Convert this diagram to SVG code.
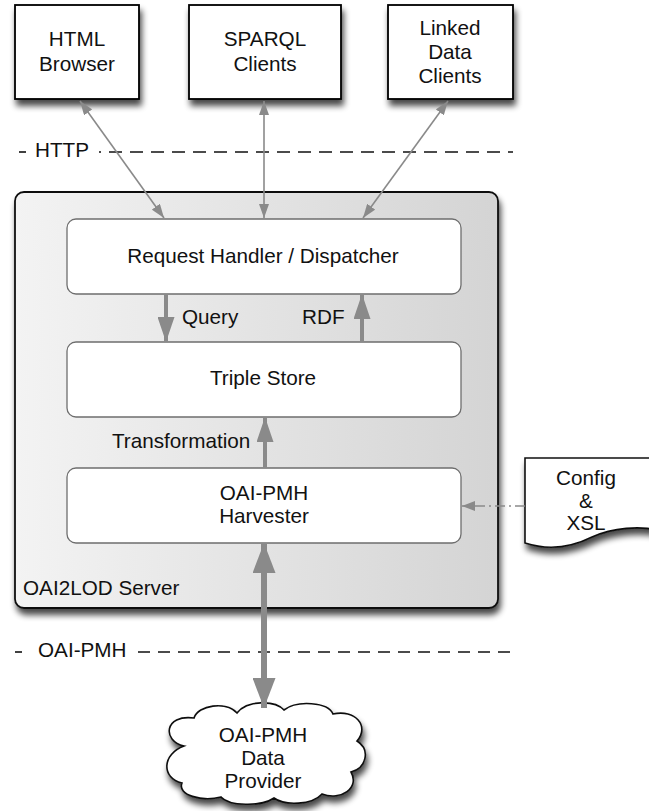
<svg xmlns="http://www.w3.org/2000/svg" width="649" height="811" viewBox="0 0 649 811">
  <defs>
    <style>
      text { font-family: "Liberation Sans", Arial, Helvetica, sans-serif; font-size: 20.7px; fill: #111; }
      .c { text-anchor: middle; }
      .client { fill: #fff; stroke: #000; stroke-width: 1.8; }
      .inner { fill: #fff; stroke: #6e6e6e; stroke-width: 1.3; }
      .boundary { stroke: #111; stroke-width: 1.6; fill: none; }
      .thin { stroke: #8a8a8a; stroke-width: 1.6; fill: none; }
      .mid { stroke: #8a8a8a; stroke-width: 4; fill: none; }
      .thick { stroke: #8a8a8a; stroke-width: 6; fill: none; }
      .dashdot { stroke: #8a8a8a; stroke-width: 1.6; fill: none; stroke-dasharray: 10 4 2 4; }
    </style>
    <filter id="shadow" x="-20%" y="-20%" width="150%" height="160%">
      <feGaussianBlur in="SourceAlpha" stdDeviation="3.2"/>
      <feOffset dx="2" dy="6" result="b"/>
      <feComponentTransfer><feFuncA type="linear" slope="0.72"/></feComponentTransfer>
      <feMerge><feMergeNode/><feMergeNode in="SourceGraphic"/></feMerge>
    </filter>
    <linearGradient id="serverFill" x1="0" y1="0" x2="1" y2="0">
      <stop offset="0" stop-color="#f3f3f3"/>
      <stop offset="1" stop-color="#d4d4d4"/>
    </linearGradient>
    <marker id="headThin" markerUnits="userSpaceOnUse" markerWidth="14" markerHeight="10" refX="14" refY="5" orient="auto-start-reverse">
      <path d="M0,0 L14,5 L0,10 z" fill="#8a8a8a"/>
    </marker>
    <marker id="headMid" markerUnits="userSpaceOnUse" markerWidth="25" markerHeight="17" refX="25" refY="8.5" orient="auto-start-reverse">
      <path d="M0,0 L25,8.5 L0,17 z" fill="#8a8a8a"/>
    </marker>
    <marker id="headBig" markerUnits="userSpaceOnUse" markerWidth="30" markerHeight="23" refX="30" refY="11.5" orient="auto-start-reverse">
      <path d="M0,0 L30,11.5 L0,23 z" fill="#8a8a8a"/>
    </marker>
    <marker id="headSmall" markerUnits="userSpaceOnUse" markerWidth="13" markerHeight="10" refX="13" refY="5" orient="auto">
      <path d="M0,0 L13,5 L0,10 z" fill="#8a8a8a"/>
    </marker>
  </defs>

  <rect width="649" height="811" fill="#fff"/>

  <!-- protocol boundaries -->
  <g id="boundary-http">
    <line class="boundary" x1="19" y1="152" x2="26" y2="152"/>
    <text x="35" y="157">HTTP</text>
    <line class="boundary" x1="99" y1="152" x2="513" y2="152" stroke-dasharray="13 8" stroke-dashoffset="11"/>
  </g>
  <g id="boundary-oaipmh">
    <line class="boundary" x1="15" y1="652" x2="22" y2="652"/>
    <text x="38" y="657">OAI-PMH</text>
    <line class="boundary" x1="138" y1="652" x2="513" y2="652" stroke-dasharray="12 8"/>
  </g>

  <!-- clients -->
  <g id="html-browser">
    <rect class="client" x="15" y="5" width="124" height="94" filter="url(#shadow)"/>
    <text class="c" x="77" y="46">HTML</text>
    <text class="c" x="77" y="71">Browser</text>
  </g>
  <g id="sparql-clients">
    <rect class="client" x="189" y="5" width="152" height="94" filter="url(#shadow)"/>
    <text class="c" x="265" y="46">SPARQL</text>
    <text class="c" x="265" y="71">Clients</text>
  </g>
  <g id="linked-data-clients">
    <rect class="client" x="388" y="5" width="125" height="94" filter="url(#shadow)"/>
    <text class="c" x="450" y="35">Linked</text>
    <text class="c" x="450" y="59">Data</text>
    <text class="c" x="450" y="83">Clients</text>
  </g>

  <!-- server container -->
  <g id="oai2lod-server">
    <rect x="15" y="192" width="483" height="416" rx="9" fill="url(#serverFill)" stroke="#111" stroke-width="1.8" filter="url(#shadow)"/>
    <text x="23" y="595">OAI2LOD Server</text>
  </g>
  <g id="request-handler">
    <rect class="inner" x="67" y="219" width="394" height="75" rx="9"/>
    <text class="c" x="263" y="263">Request Handler / Dispatcher</text>
  </g>
  <g id="triple-store">
    <rect class="inner" x="67" y="342" width="394" height="75" rx="9"/>
    <text class="c" x="263" y="385">Triple Store</text>
  </g>
  <g id="harvester">
    <rect class="inner" x="67" y="468" width="394" height="75" rx="9"/>
    <text class="c" x="264" y="500">OAI-PMH</text>
    <text class="c" x="264" y="523">Harvester</text>
  </g>

  <!-- configuration document -->
  <g id="config-xsl">
    <path d="M525,458 H662 V531 C640,525 612,528 592,537 C572,547 550,551 525,543 Z" fill="#fff" stroke="#111" stroke-width="1.6" filter="url(#shadow)"/>
    <text class="c" x="586" y="485">Config</text>
    <text class="c" x="586" y="508">&amp;</text>
    <text class="c" x="586" y="530">XSL</text>
  </g>

  <!-- data provider cloud -->
  <g id="data-provider">
    <path d="M184,746 C162,741 164,714 194,718 C198,705 226,701 237,713 C247,700 275,700 284,710 C297,700 328,702 333,714 C355,709 370,726 357,741 C371,750 366,768 351,772 C360,788 341,801 322,794 C312,805 285,806 274,798 C261,807 229,806 221,797 C202,802 177,795 182,783 C161,778 162,754 184,746 Z" fill="#fff" stroke="#111" stroke-width="1.6" filter="url(#shadow)"/>
    <text class="c" x="263" y="742">OAI-PMH</text>
    <text class="c" x="263" y="765">Data</text>
    <text class="c" x="263" y="788">Provider</text>
  </g>

  <!-- connectors -->
  <g id="connectors">
    <line class="thin" x1="80" y1="101" x2="164" y2="218" marker-start="url(#headThin)" marker-end="url(#headThin)"/>
    <line class="thin" x1="264" y1="101" x2="264" y2="218" marker-start="url(#headThin)" marker-end="url(#headThin)"/>
    <line class="thin" x1="448" y1="101" x2="363" y2="218" marker-start="url(#headThin)" marker-end="url(#headThin)"/>

    <line class="mid" x1="166" y1="294" x2="166" y2="342" marker-end="url(#headMid)"/>
    <text x="182" y="324">Query</text>
    <line class="mid" x1="362" y1="342" x2="362" y2="294" marker-end="url(#headMid)"/>
    <text x="302" y="324">RDF</text>
    <line class="mid" x1="265" y1="468" x2="265" y2="417" marker-end="url(#headMid)"/>
    <text x="112" y="448">Transformation</text>

    <line class="thick" x1="264" y1="543" x2="264" y2="708" marker-start="url(#headBig)" marker-end="url(#headBig)"/>

    <line class="dashdot" x1="525" y1="506" x2="462" y2="506" marker-end="url(#headSmall)"/>
  </g>
</svg>
